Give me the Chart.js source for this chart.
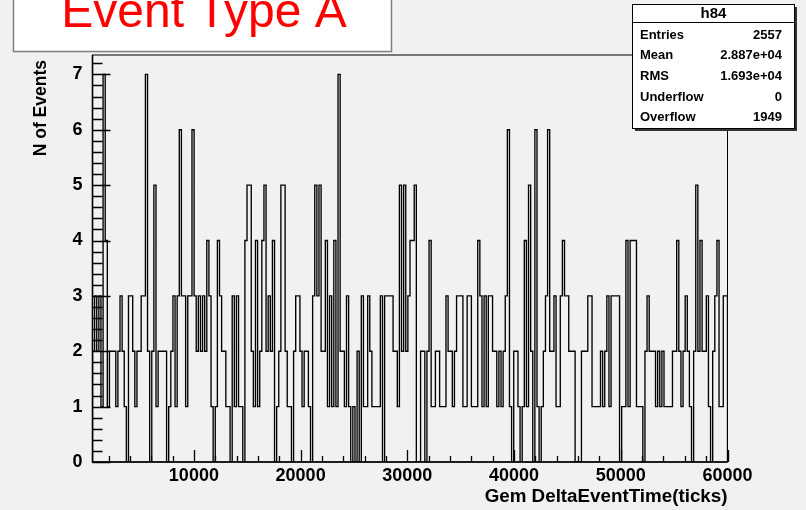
<!DOCTYPE html>
<html>
<head>
<meta charset="utf-8">
<script src="https://cdn.jsdelivr.net/npm/chart.js@4.4.1/dist/chart.umd.min.js"></script>
<style>
  html, body { margin: 0; padding: 0; background: #f1f1f1; }
  #c { display: block; }
</style>
</head>
<body>
<canvas id="c" width="806" height="510" style="width:806px;height:510px"></canvas>
<script>
// ---------------- data ----------------
const histTitle = "Event Type A";
const histName = "h84";
const xAxisTitle = "Gem DeltaEventTime(ticks)";
const yAxisTitle = "N of Events";
const xMin = 500;
const xMax = 60000;
const yMax = 7.35;
const xTickValues = [10000, 20000, 30000, 40000, 50000, 60000];
const yTickValues = [0, 1, 2, 3, 4, 5, 6, 7];
const statsLabels = ["Entries", "Mean", "RMS", "Underflow", "Overflow"];
const statsValues = ["2557", "2.887e+04", "1.693e+04", "0", "1949"];
// bin contents (300 bins between xMin and xMax)
const counts = [
  2,3,2,3,1,7,4,1,2,2, 2,1,2,3,2,1,0,3,3,2, 1,2,2,3,3,7,2,0,2,5, 1,2,2,2,2,0,1,2,3,1,
  3,6,3,3,1,3,3,6,3,2, 3,2,3,2,4,3,1,0,1,4, 3,2,2,1,1,0,3,1,3,1, 1,0,4,5,5,2,1,4,1,2,
  4,5,2,3,2,4,0,1,2,5, 5,2,1,1,0,2,3,3,2,1, 2,2,1,0,3,5,3,5,2,2, 4,1,3,1,4,1,7,2,2,1,
  3,1,0,1,0,2,0,3,1,1, 3,2,1,1,1,1,3,0,3,3, 3,3,2,2,1,5,2,5,2,3, 4,4,5,0,0,2,2,0,2,4,
  1,1,2,2,1,1,1,3,2,2, 1,2,3,3,3,1,1,3,3,1, 1,1,4,3,1,3,1,3,3,2, 2,1,2,1,2,3,6,1,0,2,
  2,1,0,1,4,1,5,2,0,6, 1,0,1,2,3,6,2,2,3,1, 1,3,4,3,3,2,2,2,0,0, 0,2,2,2,3,3,1,1,1,1,
  2,1,2,3,1,3,3,3,3,0, 1,1,4,1,4,4,4,1,1,1, 0,2,3,2,2,2,1,2,1,2, 1,1,1,1,2,2,4,2,1,2,
  3,2,1,0,2,5,2,4,2,2, 3,1,0,2,3,4,1,1,3,3
];

// ---------------- build step outline ----------------
const nBins = counts.length;
const binW = (xMax - xMin) / nBins;
const points = [{x: xMin, y: 0}];
counts.forEach((v, i) => points.push({x: xMin + i * binW, y: v}));
points.push({x: xMax, y: counts[nBins - 1]});
points.push({x: xMax, y: 0});

const FONT = "'Liberation Sans', Arial, Helvetica, sans-serif";

const rootDecor = {
  id: 'rootDecor',
  beforeDraw(chart) {
    const ctx = chart.ctx;
    ctx.save();
    ctx.fillStyle = '#f1f1f1';
    ctx.fillRect(0, 0, chart.width, chart.height);
    ctx.restore();
  },
  afterDraw(chart) {
    const ctx = chart.ctx;
    const a = chart.chartArea;
    const xs = chart.scales.x, ys = chart.scales.y;
    ctx.save();
    // frame
    ctx.strokeStyle = '#000';
    ctx.lineWidth = 1;
    ctx.strokeRect(a.left, a.top, a.right - a.left, a.bottom - a.top);
    ctx.lineWidth = 1.6;
    ctx.beginPath();
    ctx.moveTo(a.left, a.top); ctx.lineTo(a.left, a.bottom); ctx.lineTo(a.right, a.bottom);
    ctx.stroke();
    // y ticks (inside)
    ctx.lineWidth = 1.3;
    ctx.beginPath();
    for (let k = 0; k <= 36; k++) {
      const v = k * 0.2;
      if (v > yMax) break;
      const py = Math.round(ys.getPixelForValue(v)) + 0.5;
      const len = (k % 5 === 0) ? 18 : 10;
      ctx.moveTo(a.left, py); ctx.lineTo(a.left + len, py);
    }
    ctx.stroke();
    // x ticks (inside)
    ctx.beginPath();
    for (let v = 2000; v <= xMax; v += 2000) {
      const px = Math.round(xs.getPixelForValue(v)) + 0.5;
      const len = (v % 10000 === 0) ? 12 : 6;
      ctx.moveTo(px, a.bottom); ctx.lineTo(px, a.bottom - len);
    }
    ctx.stroke();

    // axis titles
    ctx.fillStyle = '#000';
    ctx.font = 'bold 18.8px ' + FONT;
    ctx.textAlign = 'right';
    ctx.textBaseline = 'alphabetic';
    ctx.fillText(xAxisTitle, a.right, 502);
    ctx.save();
    ctx.translate(46, 60);
    ctx.rotate(-Math.PI / 2);
    ctx.font = 'bold 17.5px ' + FONT;
    ctx.textAlign = 'right';
    ctx.textBaseline = 'alphabetic';
    ctx.fillText(yAxisTitle, 0, 0);
    ctx.restore();

    // title box
    ctx.fillStyle = '#ffffff';
    ctx.fillRect(13, -5, 378, 56);
    ctx.strokeStyle = '#808080';
    ctx.lineWidth = 1.5;
    ctx.strokeRect(13.5, -5, 378, 56.5);
    ctx.fillStyle = '#ff0000';
    ctx.font = '48px ' + FONT;
    ctx.textAlign = 'center';
    ctx.textBaseline = 'alphabetic';
    ctx.fillText(histTitle, 204, 27);

    // stats box
    const bx = 632.5, by = 4.5, bw = 162, bh = 124;
    ctx.fillStyle = '#333';
    ctx.fillRect(bx + 2.5, by + 2.5, bw, bh);
    ctx.fillStyle = '#ffffff';
    ctx.fillRect(bx, by, bw, bh);
    ctx.strokeStyle = '#000';
    ctx.lineWidth = 1;
    ctx.strokeRect(bx, by, bw, bh);
    ctx.beginPath();
    ctx.moveTo(bx, 22.5); ctx.lineTo(bx + bw, 22.5);
    ctx.stroke();
    ctx.fillStyle = '#000';
    ctx.font = 'bold 15px ' + FONT;
    ctx.textAlign = 'center';
    ctx.textBaseline = 'middle';
    ctx.fillText(histName, bx + bw / 2, 14);
    ctx.font = 'bold 13px ' + FONT;
    const rowY = [35, 55, 76, 97, 117];
    statsLabels.forEach((lab, i) => {
      ctx.textAlign = 'left';
      ctx.fillText(lab, 640, rowY[i]);
      ctx.textAlign = 'right';
      ctx.fillText(statsValues[i], 782, rowY[i]);
    });
    ctx.restore();
  }
};

new Chart(document.getElementById('c'), {
  type: 'line',
  data: {
    datasets: [{
      data: points,
      stepped: 'before',
      borderColor: '#000',
      borderWidth: 1.35,
      pointRadius: 0,
      fill: false,
      tension: 0
    }]
  },
  options: {
    responsive: false,
    animation: false,
    devicePixelRatio: 1,
    parsing: false,
    layout: { padding: { left: 0, right: 78.5, top: 55, bottom: 0 } },
    plugins: { legend: { display: false }, tooltip: { enabled: false }, title: { display: false } },
    scales: {
      x: {
        type: 'linear',
        min: xMin,
        max: xMax,
        afterBuildTicks: s => { s.ticks = xTickValues.map(v => ({ value: v })); },
        afterFit: s => { s.height = 48; },
        grid: { display: false, drawTicks: false },
        border: { display: false },
        ticks: {
          autoSkip: false, maxRotation: 0, padding: 3, color: '#000',
          font: { family: FONT, size: 18, weight: 'bold' },
          callback: v => String(v)
        }
      },
      y: {
        type: 'linear',
        min: 0,
        max: yMax,
        afterBuildTicks: s => { s.ticks = yTickValues.map(v => ({ value: v })); },
        afterFit: s => { s.width = 92.5; },
        grid: { display: false, drawTicks: false },
        border: { display: false },
        ticks: {
          autoSkip: false, padding: 10, color: '#000',
          font: { family: FONT, size: 18, weight: 'bold' },
          callback: v => String(v)
        }
      }
    }
  },
  plugins: [rootDecor]
});
</script>
</body>
</html>
